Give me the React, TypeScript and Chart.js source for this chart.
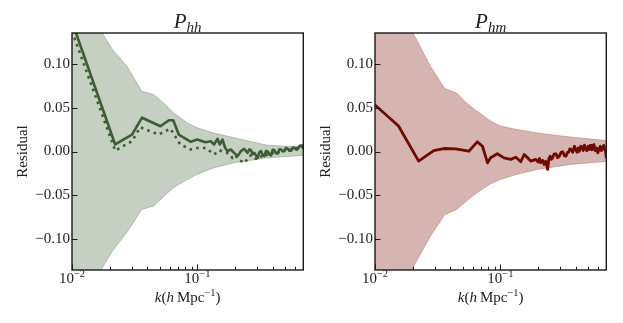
import React, { useEffect, useRef } from 'react';
import { Chart, registerables } from 'chart.js';

Chart.register(...registerables);

// ---------- data ----------
const xTickValues = [0.01, 0.02, 0.03, 0.04, 0.05, 0.06, 0.07, 0.08, 0.09, 0.1, 0.2, 0.3, 0.4, 0.5, 0.6, 0.7];
const yTickValues = [-0.1, -0.05, 0, 0.05, 0.1];

const bandK = [0.01, 0.0211, 0.0275, 0.036, 0.0449, 0.054, 0.0649, 0.0832, 0.1, 0.136, 0.197, 0.363, 0.7];
const hhBandUpper = [0.19, 0.116, 0.097, 0.0685, 0.065, 0.055, 0.044, 0.0326, 0.027, 0.021, 0.0156, 0.0072, 0.005];
const hhBandLower = [-0.19, -0.113, -0.092, -0.066, -0.062, -0.051, -0.041, -0.032, -0.026, -0.0185, -0.0129, -0.0072, -0.0045];
const hmBandUpper = [0.214, 0.1295, 0.098, 0.0718, 0.0667, 0.055, 0.046, 0.035, 0.029, 0.025, 0.0212, 0.0165, 0.0125];
const hmBandLower = [-0.21, -0.127, -0.097, -0.072, -0.066, -0.056, -0.047, -0.037, -0.032, -0.026, -0.0205, -0.0148, -0.0114];

const hhSolidK = [0.01, 0.0221, 0.0301, 0.0362, 0.0508, 0.0593, 0.0642, 0.0711, 0.0886, 0.1, 0.113, 0.1166, 0.1279, 0.1359, 0.1447, 0.151, 0.1587, 0.1665, 0.174, 0.1849, 0.1966, 0.2094, 0.2224, 0.2364, 0.2518, 0.2596, 0.2676, 0.276, 0.2844, 0.2935, 0.3028, 0.312, 0.3218, 0.332, 0.342, 0.353, 0.3641, 0.375, 0.387, 0.399, 0.4115, 0.425, 0.4382, 0.452, 0.4656, 0.48, 0.4948, 0.51, 0.5269, 0.543, 0.5602, 0.578, 0.5953, 0.614, 0.6339, 0.654, 0.6739, 0.69, 0.7];
const hhSolid = [0.148, 0.008, 0.0193, 0.0385, 0.0288, 0.0356, 0.0356, 0.0193, 0.011, 0.0136, 0.011, 0.0106, 0.0117, 0.008, 0.0144, 0.008, 0.0136, 0.0042, 0.0004, 0.0023, -0.0015, -0.0053, 0.0004, 0.003, -0.0015, 0.0025, 0.0015, -0.003, -0.0015, -0.0045, -0.0072, -0.001, 0.0004, -0.004, -0.0053, 0.0005, 0.0, -0.003, -0.0045, 0.002, 0.0015, -0.0023, -0.0023, 0.0025, 0.0023, 0.0, 0.0005, 0.004, 0.003, 0.0008, 0.001, 0.0045, 0.0042, 0.002, 0.003, 0.0065, 0.0068, 0.0045, 0.008];

const hhDottedK = [0.01, 0.0221, 0.0301, 0.035, 0.049, 0.061, 0.073, 0.0886, 0.1, 0.1166, 0.1359, 0.15, 0.165, 0.18, 0.19, 0.2, 0.215, 0.24, 0.255, 0.27, 0.29, 0.31, 0.33, 0.35, 0.37, 0.39, 0.41, 0.44, 0.47, 0.5, 0.53, 0.56, 0.6, 0.64, 0.67, 0.7];
const hhDotted = [0.137, 0.001, 0.0117, 0.0276, 0.0193, 0.026, 0.008, 0.0023, 0.004, 0.004, -0.0034, 0.0015, -0.001, -0.0023, -0.0072, -0.004, -0.0099, -0.0129, -0.006, -0.004, -0.008, -0.009, -0.004, -0.005, -0.002, -0.003, 0.0, -0.001, 0.002, 0.001, 0.003, 0.002, 0.004, 0.004, 0.006, 0.007];

const hmK = [0.01, 0.0154, 0.0223, 0.0294, 0.0354, 0.0439, 0.056, 0.0654, 0.072, 0.079, 0.0835, 0.0946, 0.1067, 0.121, 0.133, 0.1455, 0.155, 0.165, 0.1747, 0.192, 0.2, 0.205, 0.21, 0.217, 0.2236, 0.23, 0.2382, 0.244, 0.2496, 0.255, 0.261, 0.268, 0.2776, 0.286, 0.2953, 0.305, 0.3146, 0.325, 0.3346, 0.342, 0.35, 0.358, 0.3667, 0.378, 0.39, 0.4, 0.41, 0.418, 0.4275, 0.438, 0.448, 0.458, 0.4686, 0.48, 0.49, 0.502, 0.5136, 0.52, 0.53, 0.538, 0.5468, 0.558, 0.57, 0.585, 0.5994, 0.613, 0.627, 0.64, 0.657, 0.668, 0.68, 0.69, 0.7];
const hmValues = [0.053, 0.029, -0.011, 0.0011, 0.0034, 0.003, 0.0003, 0.011, 0.006, -0.013, -0.0072, -0.0026, -0.0072, -0.009, -0.0065, -0.0117, -0.0034, -0.0072, -0.011, -0.009, -0.012, -0.008, -0.0128, -0.01, -0.0148, -0.011, -0.0205, -0.008, -0.0053, -0.009, -0.0072, -0.003, -0.0026, -0.007, -0.0053, -0.001, -0.0003, -0.005, -0.0053, -0.001, -0.001, 0.003, 0.0023, -0.001, 0.006, 0.002, -0.001, 0.004, 0.0003, 0.006, 0.005, 0.001, 0.0072, 0.003, 0.001, 0.006, 0.0023, 0.007, 0.007, 0.002, 0.006, 0.008, 0.001, 0.004, -0.0015, 0.003, 0.006, 0.001, 0.0042, 0.007, 0.003, 0.0, -0.0072];

// ---------- style ----------
const FONT = "'Liberation Serif', 'DejaVu Serif', serif";
const TEXT = '#222222';
const AXIS = '#1a1a1a';
const GREEN = '#3c5c33';
const GREEN_BAND = '#c5cfc2';
const GREEN_EDGE = 'rgba(60,92,51,0.35)';
const RED = '#6e0a00';
const RED_BAND = '#d5b4b1';
const RED_EDGE = 'rgba(150,40,30,0.35)';

type Run = { t: string; f: string; dy?: number };

function drawRuns(ctx: CanvasRenderingContext2D, runs: Run[], cx: number, by: number) {
  let total = 0;
  const widths = runs.map((r) => {
    ctx.font = r.f;
    const w = ctx.measureText(r.t).width;
    total += w;
    return w;
  });
  let x = cx - total / 2;
  ctx.textAlign = 'left';
  ctx.textBaseline = 'alphabetic';
  runs.forEach((r, i) => {
    ctx.font = r.f;
    ctx.fillText(r.t, x, by + (r.dy || 0));
    x += widths[i];
  });
}

const isDecade = (v: number) => Math.abs(Math.log10(v) - Math.round(Math.log10(v))) < 1e-6;

function makeDecor(sub: string) {
  return {
    id: 'decor',
    afterDatasetsDraw(chart: any) {
      const { ctx, chartArea: a, scales } = chart;
      const xs = scales.x;
      const ys = scales.y;
      ctx.save();
      ctx.strokeStyle = AXIS;
      ctx.lineWidth = 1;
      for (const t of xs.ticks) {
        const px = Math.round(xs.getPixelForValue(t.value)) + 0.5;
        const len = t.major ? 5.5 : 3.2;
        ctx.beginPath();
        ctx.moveTo(px, a.bottom);
        ctx.lineTo(px, a.bottom - len);
        ctx.stroke();
      }
      for (const t of ys.ticks) {
        const py = Math.round(ys.getPixelForValue(t.value)) + 0.5;
        ctx.beginPath();
        ctx.moveTo(a.left, py);
        ctx.lineTo(a.left + 5.5, py);
        ctx.stroke();
      }
      ctx.lineWidth = 1.4;
      ctx.strokeRect(a.left, a.top, a.right - a.left, a.bottom - a.top);
      ctx.restore();
    },
    afterDraw(chart: any) {
      const { ctx, chartArea: a, scales } = chart;
      const xs = scales.x;
      const cx = (a.left + a.right) / 2;
      ctx.save();
      ctx.fillStyle = TEXT;
      // panel title
      drawRuns(ctx, [
        { t: 'P', f: `italic 21px ${FONT}` },
        { t: sub, f: `italic 15px ${FONT}`, dy: 4 },
      ], cx, 28);
      // x tick labels (decades)
      for (const t of xs.ticks) {
        if (!t.major) continue;
        const e = Math.round(Math.log10(t.value));
        const px = xs.getPixelForValue(t.value);
        drawRuns(ctx, [
          { t: '10', f: `15px ${FONT}` },
          { t: (e < 0 ? '\u2212' : '') + Math.abs(e), f: `10.5px ${FONT}`, dy: -6 },
        ], px, 283);
      }
      // x title
      drawRuns(ctx, [
        { t: 'k', f: `italic 15px ${FONT}` },
        { t: '(', f: `15px ${FONT}` },
        { t: 'h', f: `italic 15px ${FONT}` },
        { t: '\u2009Mpc', f: `15px ${FONT}` },
        { t: '\u22121', f: `10.5px ${FONT}`, dy: -6 },
        { t: ')', f: `15px ${FONT}` },
      ], cx, 302);
      // y title
      ctx.translate(26.5, (a.top + a.bottom) / 2);
      ctx.rotate(-Math.PI / 2);
      ctx.font = `15px ${FONT}`;
      ctx.textAlign = 'center';
      ctx.textBaseline = 'alphabetic';
      ctx.fillText('Residual', 0, 0);
      ctx.restore();
    },
  };
}

const pts = (ks: number[], vs: number[]) => ks.map((k, i) => ({ x: k, y: vs[i] }));

type PanelProps = {
  left: number;
  sub: string;
  upper: number[];
  lower: number[];
  bandFill: string;
  bandEdge: string;
  lines: any[];
};

function Panel({ left, sub, upper, lower, bandFill, bandEdge, lines }: PanelProps) {
  const ref = useRef<HTMLCanvasElement | null>(null);
  useEffect(() => {
    if (!ref.current) return;
    const chart = new Chart(ref.current, {
      type: 'line',
      data: {
        datasets: [
          { data: pts(bandK, upper), borderColor: bandEdge, borderWidth: 0.8, pointRadius: 0, fill: false, clip: 0, order: 10 } as any,
          { data: pts(bandK, lower), borderColor: bandEdge, borderWidth: 0.8, pointRadius: 0, fill: '-1', backgroundColor: bandFill, clip: 0, order: 11 } as any,
          ...lines,
        ],
      },
      options: {
        animation: false,
        responsive: false,
        events: [],
        layout: { padding: { left: 0, right: 8.7, top: 33, bottom: 0 } },
        plugins: { legend: { display: false }, tooltip: { enabled: false }, title: { display: false } },
        scales: {
          x: {
            type: 'logarithmic',
            min: 0.01,
            max: 0.7,
            grid: { display: false, drawTicks: false },
            border: { display: false },
            ticks: { display: false },
            afterBuildTicks: (s: any) => {
              s.ticks = xTickValues.map((v) => ({ value: v, major: isDecade(v) }));
            },
            afterFit: (s: any) => {
              s.height = 53;
            },
          },
          y: {
            type: 'linear',
            min: -0.135,
            max: 0.135,
            grid: { display: false, drawTicks: false },
            border: { display: false },
            ticks: {
              padding: 2,
              color: TEXT,
              font: { family: FONT, size: 15 },
              callback: (v: any) => (Number(v) < -1e-9 ? '\u2212' : '') + Math.abs(Number(v)).toFixed(2),
            },
            afterBuildTicks: (s: any) => {
              s.ticks = yTickValues.map((v) => ({ value: v }));
            },
            afterFit: (s: any) => {
              s.width = 72;
            },
          },
        },
      } as any,
      plugins: [makeDecor(sub) as any],
    });
    return () => chart.destroy();
  }, []);
  return (
    <canvas
      ref={ref}
      width={312}
      height={323}
      style={{ position: 'absolute', left, top: 0, width: 312, height: 323 }}
    />
  );
}

export default function App() {
  const hhLines = [
    { data: pts(hhSolidK, hhSolid), borderColor: GREEN, borderWidth: 2.6, pointRadius: 0, fill: false, tension: 0, clip: 0, borderJoinStyle: 'round', order: 1 },
    { data: pts(hhDottedK, hhDotted), borderColor: GREEN, borderWidth: 2.6, pointRadius: 0, fill: false, tension: 0, clip: 0, borderDash: [2.6, 4.2], order: 2 },
  ];
  const hmLines = [
    { data: pts(hmK, hmValues), borderColor: RED, borderWidth: 2.8, pointRadius: 0, fill: false, tension: 0, clip: 0, borderJoinStyle: 'round', order: 1 },
  ];
  return (
    <div style={{ position: 'absolute', left: 0, top: 0, width: 623, height: 323, background: '#fff' }}>
      <Panel left={0} sub="hh" upper={hhBandUpper} lower={hhBandLower} bandFill={GREEN_BAND} bandEdge={GREEN_EDGE} lines={hhLines} />
      <Panel left={303} sub="hm" upper={hmBandUpper} lower={hmBandLower} bandFill={RED_BAND} bandEdge={RED_EDGE} lines={hmLines} />
    </div>
  );
}
